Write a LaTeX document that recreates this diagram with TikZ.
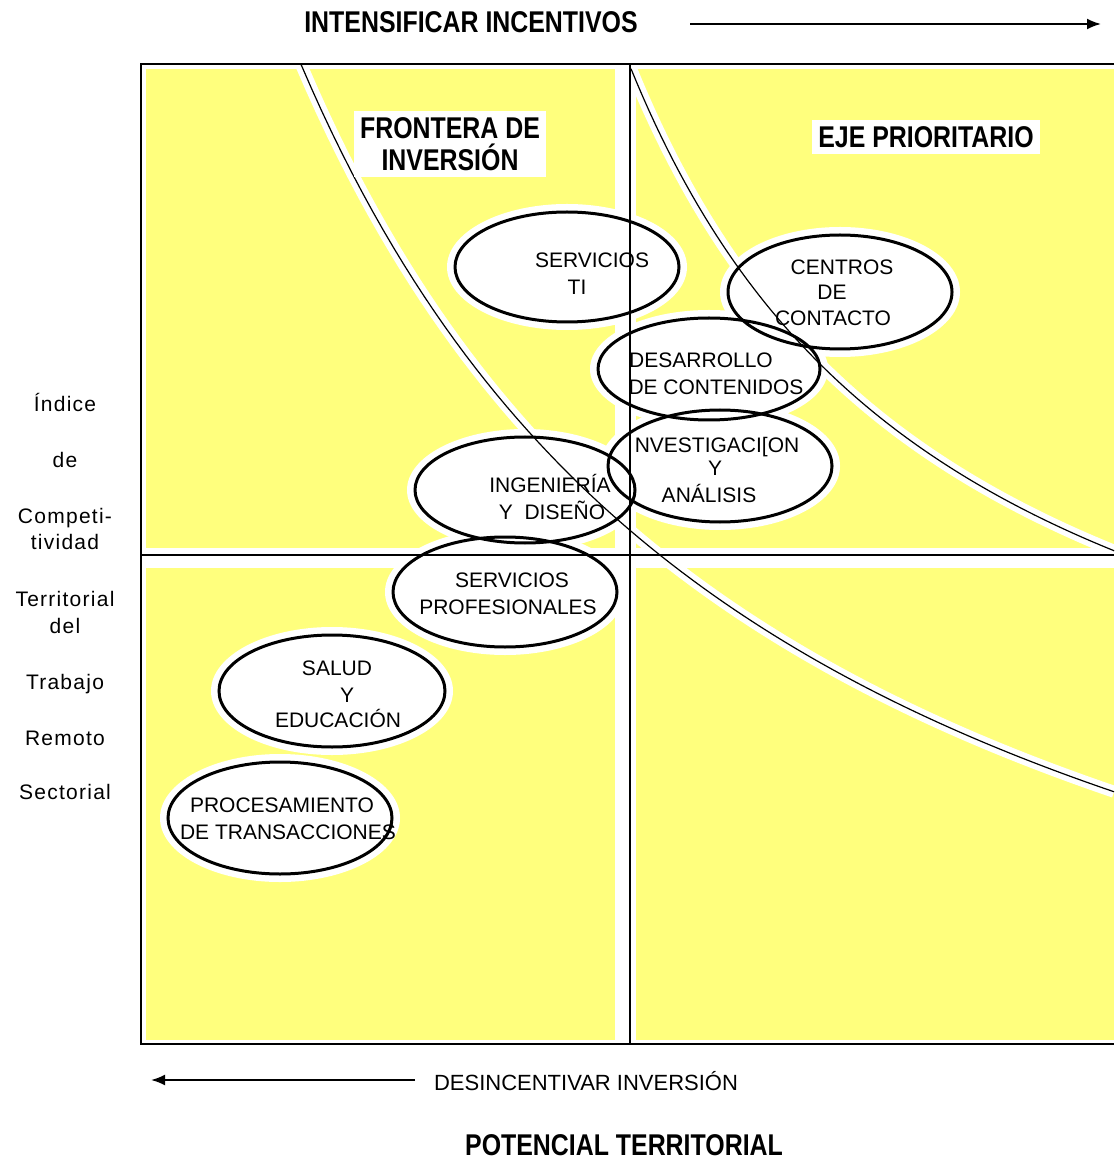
\documentclass[tikz,border=0pt]{standalone}
\usepackage{fontspec}
\setmainfont{Liberation Sans}
\newfontfamily\headfont[FakeStretch=0.83]{Liberation Sans}
\newfontfamily\sidefont[LetterSpace=6]{Liberation Sans}
\usetikzlibrary{arrows.meta,shapes.geometric}
\definecolor{zoneyellow}{RGB}{255,255,125}

\begin{document}
\begin{tikzpicture}[
  x=0.5pt,
  y=-0.5pt,
  inner sep=0pt,
  outer sep=0pt,
  zone/.style={ellipse, draw, line width=1.5pt},
  halo/.style={ellipse, fill=white},
  frontier/.style={preaction={draw=white, line width=6pt}, line width=0.6pt},
  tag/.style={font=\fontsize{10.5}{12}\selectfont, text height=7.5pt, text depth=0pt},
  side/.style={font=\sidefont\fontsize{10.5}{12}\selectfont, text height=7.5pt, text depth=0pt},
  head/.style={font=\headfont\bfseries\fontsize{15}{16}\selectfont, align=center},
  axisarrow/.style={line width=1pt, -{Latex[length=7pt,width=5.5pt]}},
]
  \useasboundingbox (0,0) rectangle (1114,1159);

  % quadrants
  \foreach \xa/\ya/\xb/\yb in {146/69/615/548, 636/69/1114/548,
                                146/568/615/1040, 636/568/1114/1040} {
    \fill[zoneyellow] (\xa,\ya) rectangle (\xb,\yb);
  }

  % white ground round the sectors
  \foreach \name/\x/\y/\rx/\ry in {
      ti/567/267/112/55, cc/840/292/112/57, dc/709/369/111/51,
      ia/720/466/112/56, id/525/490/110/53, sp/505/592/112/55,
      se/332/691/113/56, pt/280/818/112/56%
  } {
    \node[halo, minimum width=\rx pt+8pt, minimum height=\ry pt+8pt]
      (\name h) at (\x,\y) {};
  }

  % frontier curves
  \draw[frontier] plot[domain=301:1114, samples=80]
    (\x, {1240-5890/((\x+200)/100)});
  \draw[frontier] plot[domain=631:1114, samples=80]
    (\x, {881-2688.5/((\x-300)/100)});

  % frame and axes
  \draw[line width=0.8pt] (1114,64) -- (141,64) -- (141,1044) -- (1114,1044);
  \draw[line width=0.8pt] (630,64) -- (630,1044);
  \draw[line width=0.8pt] (141,555) -- (1114,555);

  % sectors
  \foreach \name/\x/\y/\rx/\ry in {
      ti/567/267/112/55, cc/840/292/112/57, dc/709/369/111/51,
      ia/720/466/112/56, id/525/490/110/53, sp/505/592/112/55,
      se/332/691/113/56, pt/280/818/112/56%
  } {
    \node[zone, minimum width=\rx pt, minimum height=\ry pt]
      (\name) at (\x,\y) {};
  }

  \foreach \name/\x/\y/\txt in {
      ti1/592/260/SERVICIOS, ti2/577/287/TI,
      cc1/842/267/CENTROS, cc2/832/292/DE, cc3/833/318/CONTACTO,
      dc1/701/360/DESARROLLO, dc2/716/387/DE CONTENIDOS,
      ia1/717/445/NVESTIGACI[ON, ia2/715/468/Y, ia3/709/495/ANÁLISIS,
      id1/550/485/INGENIERÍA, id2/552/512/Y\ \ DISEÑO,
      sp1/512/580/SERVICIOS, sp2/508/607/PROFESIONALES,
      se1/337/668/SALUD, se2/347/695/Y, se3/338/720/EDUCACIÓN,
      pt1/282/805/PROCESAMIENTO, pt2/288/832/DE TRANSACCIONES%
  } {
    \node[tag] (\name) at (\x,\y) {\txt};
  }

  % headings
  \node[head, fill=white, inner sep=3pt] (frontera) at (450,144)
    {FRONTERA DE\\INVERSIÓN};
  \node[head, fill=white, inner sep=3pt] (eje) at (926,137) {EJE PRIORITARIO};
  \node[head] (intens) at (471,22) {INTENSIFICAR INCENTIVOS};
  \node[head] (potencial) at (624,1145) {POTENCIAL TERRITORIAL};
  \node[font=\fontsize{11}{13}\selectfont, text height=8pt, text depth=0pt]
    (desinc) at (586,1082) {DESINCENTIVAR INVERSIÓN};

  % axis arrows
  \coordinate (incL) at (690,24);
  \coordinate (incR) at (1101,24);
  \draw[axisarrow] (incL) -- (incR);
  \coordinate (desR) at (415,1080);
  \coordinate (desL) at (151,1080);
  \draw[axisarrow] (desR) -- (desL);

  % vertical axis label
  \foreach \name/\y/\txt in {
      v1/404/Índice, v2/460/de, v3/516/Competi-, v4/542/tividad,
      v5/599/Territorial, v6/626/del, v7/682/Trabajo, v8/738/Remoto,
      v9/792/Sectorial%
  } {
    \node[side] (\name) at (65,\y) {\txt};
  }
\end{tikzpicture}
\end{document}
